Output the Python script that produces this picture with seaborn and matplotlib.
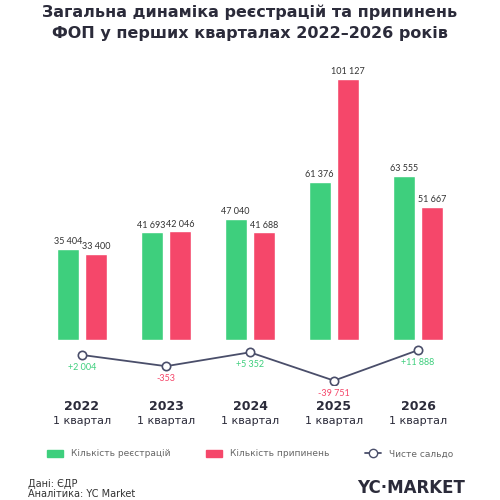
import matplotlib
matplotlib.use('Agg')
import matplotlib.pyplot as plt
import pandas as pd
import seaborn as sns
from matplotlib.lines import Line2D
from matplotlib.patches import Patch

years = ['2022', '2023', '2024', '2025', '2026']
registrations = [35404, 41693, 47040, 61376, 63555]
terminations = [33400, 42046, 41688, 101127, 51667]
net_balance = [2004, -353, 5352, -39751, 11888]

GREEN = '#3ecf7d'
RED = '#f5476a'
LINE = '#4a4e6a'

sns.set_theme(style='white')
plt.rcParams['font.family'] = ['DejaVu Sans']


def fmt(v, sign=False):
    s = f'{abs(v):,}'.replace(',', ' ')
    if sign:
        return ('+' if v >= 0 else '-') + s
    return s


df = pd.DataFrame({
    'year': years * 2,
    'value': registrations + terminations,
    'kind': ['reg'] * 5 + ['term'] * 5,
})

fig = plt.figure(figsize=(5, 5), dpi=100)
fig.patch.set_facecolor('white')

ax = fig.add_axes([0.08, 0.32, 0.84, 0.54])
sns.barplot(data=df, x='year', y='value', hue='kind', palette=[GREEN, RED],
            width=0.68, gap=0.24, saturation=1, ax=ax, legend=False)
ax.set_xlim(-0.5, 4.5)
ax.set_ylim(0, 104600)
ax.axis('off')
for cont in ax.containers:
    ax.bar_label(cont, labels=[fmt(int(b.get_height())) for b in cont],
                 padding=2, fontsize=6.5, color='#333333', family='Lato')

# net balance line
ax2 = fig.add_axes([0.08, 0.23, 0.84, 0.08])
sns.lineplot(x=list(range(5)), y=net_balance, ax=ax2, color=LINE, lw=1.3,
             marker='o', markersize=6, markerfacecolor='white',
             markeredgecolor=LINE, markeredgewidth=1.2)
ax2.set_yscale('symlog', linthresh=1000)
ax2.set_xlim(-0.5, 4.5)
ax2.set_ylim(-200000, 80000)
ax2.axis('off')
for i, v in enumerate(net_balance):
    ax2.annotate(fmt(v, True), (i, v), xytext=(0, -9), textcoords='offset points',
                 ha='center', va='center', fontsize=6.5, family='Lato',
                 color=GREEN if v >= 0 else RED)

# category labels
for i, y in enumerate(years):
    xf = 0.08 + 0.84 * (i + 0.5) / 5
    fig.text(xf, 1 - 407 / 500, y, ha='center', va='center', fontsize=9,
             fontweight='bold', color='#2b2b3a')
    fig.text(xf, 1 - 421 / 500, '1 квартал', ha='center', va='center',
             fontsize=8, color='#2b2b3a')

fig.text(0.5, 1 - 12 / 500, 'Загальна динаміка реєстрацій та припинень',
         ha='center', va='center', fontsize=11.5, fontweight='bold', color='#2b2b3a')
fig.text(0.5, 1 - 33 / 500, 'ФОП у перших кварталах 2022–2026 років',
         ha='center', va='center', fontsize=11.5, fontweight='bold', color='#2b2b3a')

handles = [Patch(color=GREEN), Patch(color=RED),
           Line2D([0], [0], color=LINE, marker='o', markerfacecolor='white',
                  markeredgecolor=LINE, lw=1.3)]
fig.legend(handles, ['Кількість реєстрацій', 'Кількість припинень', 'Чисте сальдо'],
           loc='center', bbox_to_anchor=(0.5, 1 - 454 / 500), ncol=3, frameon=False,
           fontsize=6.5, handlelength=1.8, columnspacing=4, labelcolor='#666666')

fig.text(0.055, 1 - 484 / 500, 'Дані: ЄДР', fontsize=7, va='center', color='#333333')
fig.text(0.055, 1 - 494 / 500, 'Аналітика: YC Market', fontsize=7, va='center', color='#333333')
fig.text(0.93, 1 - 488 / 500, 'YC·MARKET', fontsize=12, fontweight='bold',
         ha='right', va='center', color='#2b2b3a')

fig.savefig('out.png', dpi=100, facecolor='white')
